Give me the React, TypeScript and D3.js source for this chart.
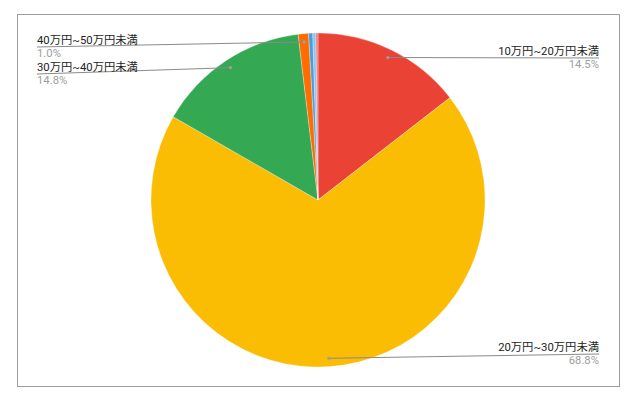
import React from "react";
import * as d3 from "d3";

// slice data, clockwise from 12 o'clock
const categories = [
  "10万円~20万円未満",
  "20万円~30万円未満",
  "30万円~40万円未満",
  "40万円~50万円未満",
  "50万円~60万円未満",
  "60万円~70万円未満",
  "70万円以上",
];
const values = [14.5, 68.8, 14.8, 1.0, 0.4, 0.3, 0.2];
const colors = ["#ea4335", "#fbbc04", "#34a853", "#ff6d01", "#4a9de0", "#8cc4f0", "#f07b72"];

// which slices get a callout, and where the callout text sits
const labelled = [0, 1, 2, 3];
const labelSide = ["right", "right", "left", "left"];
const labelLineY = [58, 354, 74, 47];

const W = 638;
const H = 403;
const cx = 318;
const cy = 200;
const radius = 167;

type Slice = { name: string; value: number; color: string };

const App: React.FC = () => {
  const data: Slice[] = values.map((v, i) => ({ name: categories[i], value: v, color: colors[i] }));
  const pie = d3
    .pie<Slice>()
    .value((d) => d.value)
    .sort(null);
  const arcs = pie(data);
  const arc = d3.arc<d3.PieArcDatum<Slice>>().innerRadius(0).outerRadius(radius);
  const anchorArc = d3
    .arc<d3.PieArcDatum<Slice>>()
    .innerRadius(radius * 0.95)
    .outerRadius(radius * 0.95);
  const fmt = d3.format(".1f");
  const font = "Roboto, 'Noto Sans CJK JP', sans-serif";

  return (
    <svg
      width={W}
      height={H}
      style={{ position: "absolute", left: 0, top: 0, background: "#fff" }}
    >
      <rect x={17.5} y={14.5} width={602} height={372} fill="#fff" stroke="#9e9e9e" />
      <g transform={`translate(${cx},${cy})`}>
        {arcs.map((a, i) => (
          <path key={i} d={arc(a) || ""} fill={a.data.color} stroke="#fff" strokeWidth={0.3} />
        ))}
      </g>
      {labelled.map((idx, k) => {
        const a = arcs[idx];
        const [ax, ay] = anchorArc.centroid(a);
        const px = cx + ax;
        const py = cy + ay;
        const right = labelSide[k] === "right";
        const ex = right ? 599 : 37;
        const ly = labelLineY[k];
        return (
          <g key={idx}>
            <line x1={px} y1={py} x2={ex} y2={ly} stroke="#8a8a8a" strokeWidth={1} />
            <circle cx={px} cy={py} r={1.6} fill="#9e9e9e" />
            <text
              x={ex}
              y={ly - 3.5}
              textAnchor={right ? "end" : "start"}
              fontFamily={font}
              fontSize={11.3}
              fill="#222"
            >
              {a.data.name}
            </text>
            <text
              x={ex}
              y={ly + 10}
              textAnchor={right ? "end" : "start"}
              fontFamily={font}
              fontSize={11.3}
              fill="#9e9e9e"
            >
              {fmt(a.data.value)}%
            </text>
          </g>
        );
      })}
    </svg>
  );
};

export default App;
